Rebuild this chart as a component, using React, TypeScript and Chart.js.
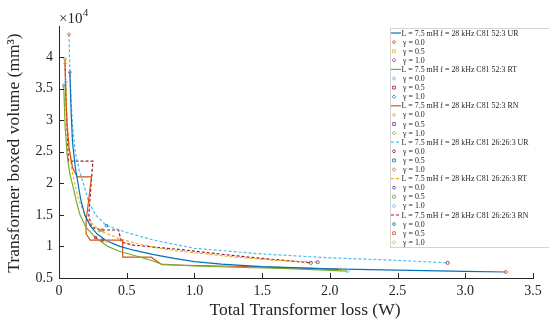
import React, { useEffect, useRef } from "react";
import { Chart, registerables } from "chart.js";

Chart.register(...registerables);

// ---------- data (x: total loss in W, y: boxed volume in mm^3) ----------
const UR52_X = [0.08, 0.09, 0.1, 0.12, 0.14, 0.16, 0.19, 0.23, 0.28, 0.35, 0.45, 0.55, 0.7, 0.85, 1.0, 1.2, 1.5, 2.0, 2.5, 3.0, 3.3];
const UR52_Y = [37600, 31000, 26500, 22500, 20000, 17500, 15000, 13300, 12000, 10900, 10000, 9400, 8700, 8100, 7600, 7200, 6800, 6450, 6250, 6050, 5950];

const RT52_X = [0.035, 0.045, 0.06, 0.08, 0.1, 0.13, 0.155, 0.2, 0.27, 0.36, 0.45, 0.55, 0.65, 0.76, 1.0, 1.3, 1.7, 2.13];
const RT52_Y = [35500, 29000, 24500, 21500, 19800, 17000, 15000, 13000, 11400, 10000, 9200, 8600, 8000, 7200, 6900, 6700, 6500, 6100];

const RN52_X = [0.044, 0.05, 0.06, 0.075, 0.1, 0.135, 0.24, 0.2, 0.2, 0.23, 0.47, 0.47, 0.68, 0.76, 1.2, 1.6, 2.08];
const RN52_Y = [39700, 34000, 29000, 25500, 22500, 21000, 21000, 14000, 12000, 11000, 11000, 8300, 8300, 7100, 6900, 6700, 6350];

const UR26_X = [0.074, 0.08, 0.09, 0.1, 0.12, 0.15, 0.18, 0.22, 0.27, 0.35, 0.5, 0.7, 1.0, 1.5, 2.0, 2.5, 2.87];
const UR26_Y = [43600, 38000, 33000, 29000, 25000, 22000, 20000, 17000, 15000, 13300, 12200, 11000, 9700, 8800, 8200, 7800, 7400];

const RT26_X = [0.05, 0.06, 0.075, 0.1, 0.14, 0.2, 0.3, 0.45, 0.6, 0.8, 1.0, 1.3, 1.6, 1.91];
const RT26_Y = [36000, 30000, 25500, 21500, 17800, 14500, 12500, 11200, 10300, 9500, 9000, 8300, 7800, 7500];

const RN26_X = [0.045, 0.055, 0.065, 0.07, 0.25, 0.22, 0.24, 0.32, 0.44, 0.46, 0.55, 0.7, 0.9, 1.1, 1.4, 1.86];
const RN26_Y = [39000, 31000, 26000, 23500, 23500, 15000, 13000, 12600, 12600, 10700, 10200, 9900, 9500, 9000, 8300, 7400];

// gamma markers for each design: [gamma 0.0, gamma 0.5, gamma 1.0]
const UR52_GAMMA_X = [3.3, 0.35, 0.08];
const UR52_GAMMA_Y = [5950, 10900, 37600];
const RT52_GAMMA_X = [2.13, 0.27, 0.035];
const RT52_GAMMA_Y = [6100, 11400, 35500];
const RN52_GAMMA_X = [2.08, 0.32, 0.044];
const RN52_GAMMA_Y = [6350, 11000, 39700];
const UR26_GAMMA_X = [2.87, 0.35, 0.074];
const UR26_GAMMA_Y = [7400, 13300, 43600];
const RT26_GAMMA_X = [1.91, 0.3, 0.05];
const RT26_GAMMA_Y = [7500, 12500, 36000];
const RN26_GAMMA_X = [1.86, 0.32, 0.045];
const RN26_GAMMA_Y = [7400, 12600, 39000];

const SERIES_LABELS = [
  "L = 7.5 mH f = 28 kHz C81 52:3 UR",
  "L = 7.5 mH f = 28 kHz C81 52:3 RT",
  "L = 7.5 mH f = 28 kHz C81 52:3 RN",
  "L = 7.5 mH f = 28 kHz C81 26:26:3 UR",
  "L = 7.5 mH f = 28 kHz C81 26:26:3 RT",
  "L = 7.5 mH f = 28 kHz C81 26:26:3 RN",
];
const GAMMA_LABELS = ["γ = 0.0", "γ = 0.5", "γ = 1.0"];

const X_TICKS = [0, 0.5, 1, 1.5, 2, 2.5, 3, 3.5];
const Y_TICKS = [5000, 10000, 15000, 20000, 25000, 30000, 35000, 40000];

const X_TITLE = "Total Transformer loss (W)";
const Y_TITLE = "Transformer boxed volume (mm³)";

// ---------- styles ----------
const PALETTE = ["#0072BD", "#D95319", "#EDB120", "#7E2F8E", "#77AC30", "#4DBEEE", "#A2142F"];
const SERIF = "'Liberation Serif', 'Times New Roman', serif";
const GAMMA_SHAPES = ["circle", "rect", "rectRot"];

const SERIES = [
  { label: SERIES_LABELS[0], xs: UR52_X, ys: UR52_Y, gx: UR52_GAMMA_X, gy: UR52_GAMMA_Y, dash: [] as number[] },
  { label: SERIES_LABELS[1], xs: RT52_X, ys: RT52_Y, gx: RT52_GAMMA_X, gy: RT52_GAMMA_Y, dash: [] as number[] },
  { label: SERIES_LABELS[2], xs: RN52_X, ys: RN52_Y, gx: RN52_GAMMA_X, gy: RN52_GAMMA_Y, dash: [] as number[] },
  { label: SERIES_LABELS[3], xs: UR26_X, ys: UR26_Y, gx: UR26_GAMMA_X, gy: UR26_GAMMA_Y, dash: [3, 2] },
  { label: SERIES_LABELS[4], xs: RT26_X, ys: RT26_Y, gx: RT26_GAMMA_X, gy: RT26_GAMMA_Y, dash: [3, 2] },
  { label: SERIES_LABELS[5], xs: RN26_X, ys: RN26_Y, gx: RN26_GAMMA_X, gy: RN26_GAMMA_Y, dash: [3, 2] },
];

type LegendItem = { kind: "line" | "marker"; text: string; color: string; dash?: number[]; shape?: string };

function buildAll() {
  const datasets: any[] = [];
  const legend: LegendItem[] = [];
  let colorIdx = 0;
  SERIES.forEach((s) => {
    const lineColor = PALETTE[colorIdx % 7];
    colorIdx++;
    datasets.push({
      type: "line",
      label: s.label,
      data: s.xs.map((x, i) => ({ x, y: s.ys[i] })),
      borderColor: lineColor,
      backgroundColor: lineColor,
      borderWidth: 1.2,
      borderDash: s.dash,
      pointRadius: 0,
      tension: 0,
      fill: false,
      order: 1,
    });
    legend.push({ kind: "line", text: s.label, color: lineColor, dash: s.dash });
    GAMMA_LABELS.forEach((g, gi) => {
      const mc = PALETTE[colorIdx % 7];
      colorIdx++;
      datasets.push({
        type: "scatter",
        label: g,
        data: [{ x: s.gx[gi], y: s.gy[gi] }],
        borderColor: mc,
        backgroundColor: "rgba(0,0,0,0)",
        borderWidth: 0.8,
        pointStyle: GAMMA_SHAPES[gi],
        pointRadius: 1.6,
        showLine: false,
        order: 0,
      });
      legend.push({ kind: "marker", text: g, color: mc, shape: GAMMA_SHAPES[gi] });
    });
  });
  return { datasets, legend };
}

function drawMarker(ctx: CanvasRenderingContext2D, shape: string, x: number, y: number, r: number) {
  ctx.beginPath();
  if (shape === "circle") {
    ctx.arc(x, y, r, 0, Math.PI * 2);
  } else if (shape === "rect") {
    ctx.rect(x - r, y - r, 2 * r, 2 * r);
  } else {
    ctx.moveTo(x, y - r * 1.3);
    ctx.lineTo(x + r * 1.3, y);
    ctx.lineTo(x, y + r * 1.3);
    ctx.lineTo(x - r * 1.3, y);
    ctx.closePath();
  }
  ctx.stroke();
}

export default function App() {
  const canvasRef = useRef<HTMLCanvasElement | null>(null);

  useEffect(() => {
    document.body.style.margin = "0";
    const canvas = canvasRef.current;
    if (!canvas) return;
    const { datasets, legend } = buildAll();

    const overlay = {
      id: "overlay",
      afterDraw(chart: any) {
        const ctx: CanvasRenderingContext2D = chart.ctx;
        const { left, bottom } = chart.chartArea;
        const xs = chart.scales.x;
        const ys = chart.scales.y;
        ctx.save();
        // inward tick marks
        ctx.strokeStyle = "#262626";
        ctx.lineWidth = 1;
        ctx.setLineDash([]);
        ctx.beginPath();
        X_TICKS.forEach((v) => {
          const px = Math.round(xs.getPixelForValue(v)) + 0.5;
          ctx.moveTo(px, bottom);
          ctx.lineTo(px, bottom - 5);
        });
        Y_TICKS.forEach((v) => {
          const py = Math.round(ys.getPixelForValue(v)) + 0.5;
          ctx.moveTo(left, py);
          ctx.lineTo(left + 5, py);
        });
        ctx.stroke();

        // axis titles
        ctx.fillStyle = "#262626";
        ctx.font = `17.5px ${SERIF}`;
        ctx.textAlign = "center";
        ctx.textBaseline = "middle";
        ctx.fillText(X_TITLE, 305, 310);
        ctx.save();
        ctx.translate(14, 153);
        ctx.rotate(-Math.PI / 2);
        ctx.fillText(Y_TITLE, 0, 0);
        ctx.restore();

        // exponent label
        ctx.textAlign = "left";
        ctx.textBaseline = "alphabetic";
        ctx.font = `15px ${SERIF}`;
        ctx.fillText("×10", 59, 23);
        const w = ctx.measureText("×10").width;
        ctx.font = `10.5px ${SERIF}`;
        ctx.fillText("4", 59 + w + 0.5, 16);

        // legend box
        const lx = 390, ly = 28, lw = 170, lh = 219;
        ctx.fillStyle = "#ffffff";
        ctx.fillRect(lx, ly, lw, lh);
        ctx.strokeStyle = "#d4d4d4";
        ctx.lineWidth = 1;
        ctx.strokeRect(lx + 0.5, ly + 0.5, lw, lh);
        ctx.font = `7.9px ${SERIF}`;
        ctx.textBaseline = "middle";
        legend.forEach((it, i) => {
          const cy = 33 + i * 9.1;
          if (it.kind === "line") {
            ctx.strokeStyle = it.color;
            ctx.lineWidth = 1.2;
            ctx.setLineDash(it.dash || []);
            ctx.beginPath();
            ctx.moveTo(391, cy);
            ctx.lineTo(401, cy);
            ctx.stroke();
            ctx.setLineDash([]);
            ctx.fillStyle = "#262626";
            ctx.fillText(it.text, 401.5, cy + 0.5);
          } else {
            ctx.strokeStyle = it.color;
            ctx.lineWidth = 0.8;
            drawMarker(ctx, it.shape || "circle", 394, cy, 1.4);
            ctx.fillStyle = "#262626";
            ctx.fillText(it.text, 403, cy + 0.5);
          }
        });
        ctx.restore();
      },
    };

    const chart = new Chart(canvas, {
      type: "line",
      data: { datasets },
      options: {
        animation: false,
        responsive: false,
        devicePixelRatio: 1,
        layout: { padding: { top: 26, right: 16, left: 0, bottom: 0 } },
        plugins: { legend: { display: false }, tooltip: { enabled: false } },
        scales: {
          x: {
            type: "linear",
            min: 0,
            max: 3.5,
            afterBuildTicks: (s: any) => {
              s.ticks = X_TICKS.map((v) => ({ value: v }));
            },
            afterFit: (s: any) => {
              s.height = 48;
            },
            ticks: { font: { family: SERIF, size: 14 }, color: "#262626", padding: 5, maxRotation: 0 },
            grid: { display: false, drawTicks: false },
            border: { display: true, color: "#262626", width: 1 },
          },
          y: {
            type: "linear",
            min: 5000,
            max: 44900,
            afterBuildTicks: (s: any) => {
              s.ticks = Y_TICKS.map((v) => ({ value: v }));
            },
            afterFit: (s: any) => {
              s.width = 59;
            },
            ticks: {
              font: { family: SERIF, size: 14 },
              color: "#262626",
              padding: 6,
              callback: (v: any) => String(Number(v) / 10000),
            },
            grid: { display: false, drawTicks: false },
            border: { display: true, color: "#262626", width: 1 },
          },
        },
      } as any,
      plugins: [overlay],
    });
    return () => chart.destroy();
  }, []);

  return (
    <div style={{ width: 549, height: 326, background: "#fff" }}>
      <canvas ref={canvasRef} width={549} height={326} style={{ display: "block", width: 549, height: 326 }} />
    </div>
  );
}
